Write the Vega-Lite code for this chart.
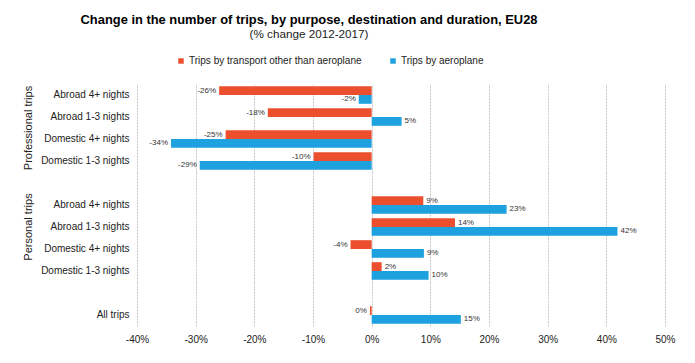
{
  "$schema": "https://vega.github.io/schema/vega-lite/v6.json",
  "padding": {"left": 23, "top": 14, "right": 15, "bottom": 10},
  "config": {
    "font": "Liberation Sans",
    "view": {"stroke": null},
    "axis": {"labelFont": "Liberation Sans", "labelColor": "#222", "titleFont": "Liberation Sans"},
    "header": {"labelFont": "Liberation Sans"},
    "legend": {"labelFont": "Liberation Sans"}
  },
  "title": {
    "text": "Change in the number of trips, by purpose, destination and duration, EU28",
    "subtitle": "(% change 2012-2017)",
    "fontSize": 12.9,
    "fontWeight": "bold",
    "color": "#000",
    "subtitleFontSize": 11.7,
    "subtitleColor": "#222",
    "subtitlePadding": 2,
    "anchor": "middle",
    "dx": -40,
    "offset": 15
  },
  "data": {
    "values": [
      {"group": "Professional trips", "cat": "Abroad 4+ nights", "series": "Trips by transport other than aeroplane", "value": -26, "label": "-26%"},
      {"group": "Professional trips", "cat": "Abroad 4+ nights", "series": "Trips by aeroplane", "value": -2.2, "label": "-2%"},
      {"group": "Professional trips", "cat": "Abroad 1-3 nights", "series": "Trips by transport other than aeroplane", "value": -17.7, "label": "-18%"},
      {"group": "Professional trips", "cat": "Abroad 1-3 nights", "series": "Trips by aeroplane", "value": 5.1, "label": "5%"},
      {"group": "Professional trips", "cat": "Domestic 4+ nights", "series": "Trips by transport other than aeroplane", "value": -24.9, "label": "-25%"},
      {"group": "Professional trips", "cat": "Domestic 4+ nights", "series": "Trips by aeroplane", "value": -34.2, "label": "-34%"},
      {"group": "Professional trips", "cat": "Domestic 1-3 nights", "series": "Trips by transport other than aeroplane", "value": -9.9, "label": "-10%"},
      {"group": "Professional trips", "cat": "Domestic 1-3 nights", "series": "Trips by aeroplane", "value": -29.3, "label": "-29%"},
      {"group": "Personal trips", "cat": " ", "series": "Trips by aeroplane", "value": 0, "label": ""},
      {"group": "Personal trips", "cat": "Abroad 4+ nights", "series": "Trips by transport other than aeroplane", "value": 8.8, "label": "9%"},
      {"group": "Personal trips", "cat": "Abroad 4+ nights", "series": "Trips by aeroplane", "value": 23, "label": "23%"},
      {"group": "Personal trips", "cat": "Abroad 1-3 nights", "series": "Trips by transport other than aeroplane", "value": 14.2, "label": "14%"},
      {"group": "Personal trips", "cat": "Abroad 1-3 nights", "series": "Trips by aeroplane", "value": 41.9, "label": "42%"},
      {"group": "Personal trips", "cat": "Domestic 4+ nights", "series": "Trips by transport other than aeroplane", "value": -3.6, "label": "-4%"},
      {"group": "Personal trips", "cat": "Domestic 4+ nights", "series": "Trips by aeroplane", "value": 8.9, "label": "9%"},
      {"group": "Personal trips", "cat": "Domestic 1-3 nights", "series": "Trips by transport other than aeroplane", "value": 1.7, "label": "2%"},
      {"group": "Personal trips", "cat": "Domestic 1-3 nights", "series": "Trips by aeroplane", "value": 9.7, "label": "10%"},
      {"group": "All trips", "cat": " ", "series": "Trips by aeroplane", "value": 0, "label": ""},
      {"group": "All trips", "cat": "All trips", "series": "Trips by transport other than aeroplane", "value": -0.3, "label": "0%"},
      {"group": "All trips", "cat": "All trips", "series": "Trips by aeroplane", "value": 15.2, "label": "15%"}
    ]
  },
  "facet": {
    "row": {
      "field": "group",
      "type": "nominal",
      "sort": ["Professional trips", "Personal trips", "All trips"],
      "header": {
        "title": null,
        "labelAngle": -90,
        "labelOrient": "left",
        "labelFontSize": 11,
        "labelColor": "#222",
        "labelPadding": 0,
        "labelExpr": "datum.value == 'All trips' ? '' : datum.value"
      }
    }
  },
  "spacing": 0,
  "resolve": {"scale": {"y": "independent", "yOffset": "independent"}},
  "spec": {
    "width": 528,
    "height": {"step": 22, "for": "position"},
    "encoding": {
      "y": {
        "field": "cat",
        "type": "nominal",
        "sort": [" ", "Abroad 4+ nights", "Abroad 1-3 nights", "Domestic 4+ nights", "Domestic 1-3 nights", "All trips"],
        "scale": {"paddingInner": 0.2, "paddingOuter": 0.1},
        "axis": {"title": null, "ticks": false, "domain": false, "labelFontSize": 10, "labelPadding": 8}
      },
      "yOffset": {
        "field": "series",
        "type": "nominal",
        "sort": ["Trips by transport other than aeroplane", "Trips by aeroplane"],
        "scale": {"paddingInner": 0, "paddingOuter": 0}
      },
      "x": {
        "field": "value",
        "type": "quantitative",
        "scale": {"domain": [-40, 50], "nice": false},
        "axis": {
          "title": null,
          "values": [-40, -30, -20, -10, 0, 10, 20, 30, 40, 50],
          "labelExpr": "datum.value + '%'",
          "labelFontSize": 10,
          "labelPadding": 8,
          "labelFlush": false,
          "ticks": false,
          "domain": false,
          "grid": true,
          "gridColor": "#c8c8c8",
          "gridDash": [2, 1]
        }
      }
    },
    "layer": [
      {
        "mark": {"type": "bar"},
        "encoding": {
          "color": {
            "field": "series",
            "type": "nominal",
            "sort": ["Trips by transport other than aeroplane", "Trips by aeroplane"],
            "scale": {"range": ["#EB4F2E", "#1DA1DF"]},
            "legend": {
              "title": null,
              "orient": "none",
              "legendX": 39,
              "legendY": -28,
              "direction": "horizontal",
              "symbolType": "square",
              "symbolSize": 30,
              "labelFontSize": 10,
              "labelColor": "#222",
              "labelOffset": 3,
              "labelLimit": 400,
              "columnPadding": 26
            }
          }
        }
      },
      {
        "transform": [{"filter": "datum.value < 0"}],
        "mark": {"type": "text", "align": "right", "dx": -3, "fontSize": 8, "color": "#333", "baseline": "middle"},
        "encoding": {"text": {"field": "label"}}
      },
      {
        "transform": [{"filter": "datum.value >= 0 && datum.label != ''"}],
        "mark": {"type": "text", "align": "left", "dx": 3, "fontSize": 8, "color": "#333", "baseline": "middle"},
        "encoding": {"text": {"field": "label"}}
      }
    ]
  }
}
